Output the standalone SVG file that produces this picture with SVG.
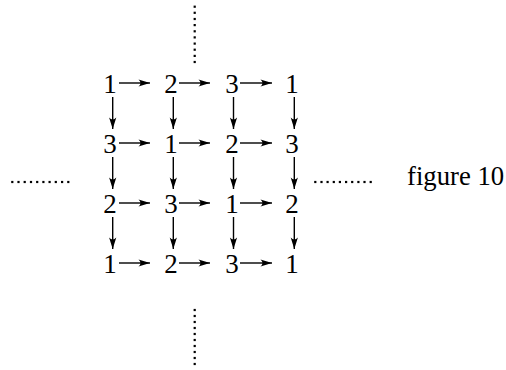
<svg xmlns="http://www.w3.org/2000/svg" width="506" height="370" viewBox="0 0 506 370">
<style>
.d{font-family:"Liberation Serif","DejaVu Serif",serif;font-size:27px;fill:#000;text-anchor:middle}
.t{font-family:"Liberation Serif","DejaVu Serif",serif;font-size:26.7px;fill:#000}
.a{stroke:#000;stroke-width:1.4;fill:none;marker-end:url(#ah)}
.dot{fill:#000}
</style>
<defs>
<marker id="ah" markerUnits="userSpaceOnUse" viewBox="-12 -5 13 10" refX="0" refY="0" markerWidth="13" markerHeight="10" orient="auto">
<path d="M0,0 L-11.5,-3.6 Q-7.5,0 -11.5,3.6 Z" fill="#000"/>
</marker>
<rect id="p" x="-1.1" y="-1.1" width="2.2" height="2.2"/>
</defs>
<rect width="506" height="370" fill="#fff"/>
<g id="nodes">
<g id="n11"><text class="d" x="110" y="93">1</text></g>
<g id="n12"><text class="d" x="171" y="93">2</text></g>
<g id="n13"><text class="d" x="232" y="93">3</text></g>
<g id="n14"><text class="d" x="292" y="93">1</text></g>
<g id="n21"><text class="d" x="110" y="153">3</text></g>
<g id="n22"><text class="d" x="171" y="153">1</text></g>
<g id="n23"><text class="d" x="232" y="153">2</text></g>
<g id="n24"><text class="d" x="292" y="153">3</text></g>
<g id="n31"><text class="d" x="110" y="213">2</text></g>
<g id="n32"><text class="d" x="171" y="213">3</text></g>
<g id="n33"><text class="d" x="232" y="213">1</text></g>
<g id="n34"><text class="d" x="292" y="213">2</text></g>
<g id="n41"><text class="d" x="110" y="273">1</text></g>
<g id="n42"><text class="d" x="171" y="273">2</text></g>
<g id="n43"><text class="d" x="232" y="273">3</text></g>
<g id="n44"><text class="d" x="292" y="273">1</text></g>
</g>
<g id="connectors">
<line class="a" x1="119" y1="83" x2="150" y2="83"/>
<line class="a" x1="179" y1="83" x2="210" y2="83"/>
<line class="a" x1="240" y1="83" x2="272" y2="83"/>
<line class="a" x1="119" y1="143" x2="150" y2="143"/>
<line class="a" x1="179" y1="143" x2="210" y2="143"/>
<line class="a" x1="240" y1="143" x2="272" y2="143"/>
<line class="a" x1="119" y1="203" x2="150" y2="203"/>
<line class="a" x1="179" y1="203" x2="210" y2="203"/>
<line class="a" x1="240" y1="203" x2="272" y2="203"/>
<line class="a" x1="119" y1="263" x2="150" y2="263"/>
<line class="a" x1="179" y1="263" x2="210" y2="263"/>
<line class="a" x1="240" y1="263" x2="272" y2="263"/>
<line class="a" x1="112.7" y1="97" x2="112.7" y2="129"/>
<line class="a" x1="173.3" y1="97" x2="173.3" y2="129"/>
<line class="a" x1="233.5" y1="97" x2="233.5" y2="129"/>
<line class="a" x1="294.3" y1="97" x2="294.3" y2="129"/>
<line class="a" x1="112.7" y1="157" x2="112.7" y2="189"/>
<line class="a" x1="173.3" y1="157" x2="173.3" y2="189"/>
<line class="a" x1="233.5" y1="157" x2="233.5" y2="189"/>
<line class="a" x1="294.3" y1="157" x2="294.3" y2="189"/>
<line class="a" x1="112.7" y1="217" x2="112.7" y2="249"/>
<line class="a" x1="173.3" y1="217" x2="173.3" y2="249"/>
<line class="a" x1="233.5" y1="217" x2="233.5" y2="249"/>
<line class="a" x1="294.3" y1="217" x2="294.3" y2="249"/>
</g>
<g id="dots-top" class="dot">
<use href="#p" x="194.7" y="6.7"/><use href="#p" x="194.7" y="12.8"/><use href="#p" x="194.7" y="19"/><use href="#p" x="194.7" y="25.1"/><use href="#p" x="194.7" y="31.3"/><use href="#p" x="194.7" y="37.4"/><use href="#p" x="194.7" y="43.6"/><use href="#p" x="194.7" y="49.7"/><use href="#p" x="194.7" y="55.9"/><use href="#p" x="194.7" y="62"/>
</g>
<g id="dots-bottom" class="dot">
<use href="#p" x="194.7" y="310"/><use href="#p" x="194.7" y="316"/><use href="#p" x="194.7" y="322"/><use href="#p" x="194.7" y="328"/><use href="#p" x="194.7" y="334"/><use href="#p" x="194.7" y="340"/><use href="#p" x="194.7" y="346"/><use href="#p" x="194.7" y="352"/><use href="#p" x="194.7" y="358"/><use href="#p" x="194.7" y="364"/>
</g>
<g id="dots-left" class="dot">
<use href="#p" x="12.3" y="182"/><use href="#p" x="18.5" y="182"/><use href="#p" x="24.7" y="182"/><use href="#p" x="31" y="182"/><use href="#p" x="37.2" y="182"/><use href="#p" x="43.4" y="182"/><use href="#p" x="49.6" y="182"/><use href="#p" x="55.8" y="182"/><use href="#p" x="62.1" y="182"/><use href="#p" x="68.3" y="182"/>
</g>
<g id="dots-right" class="dot">
<use href="#p" x="315.3" y="182"/><use href="#p" x="321.5" y="182"/><use href="#p" x="327.6" y="182"/><use href="#p" x="333.8" y="182"/><use href="#p" x="339.9" y="182"/><use href="#p" x="346.1" y="182"/><use href="#p" x="352.2" y="182"/><use href="#p" x="358.4" y="182"/><use href="#p" x="364.5" y="182"/><use href="#p" x="370.7" y="182"/>
</g>
<g id="caption"><text class="t" x="407" y="185">figure 10</text></g>
</svg>
